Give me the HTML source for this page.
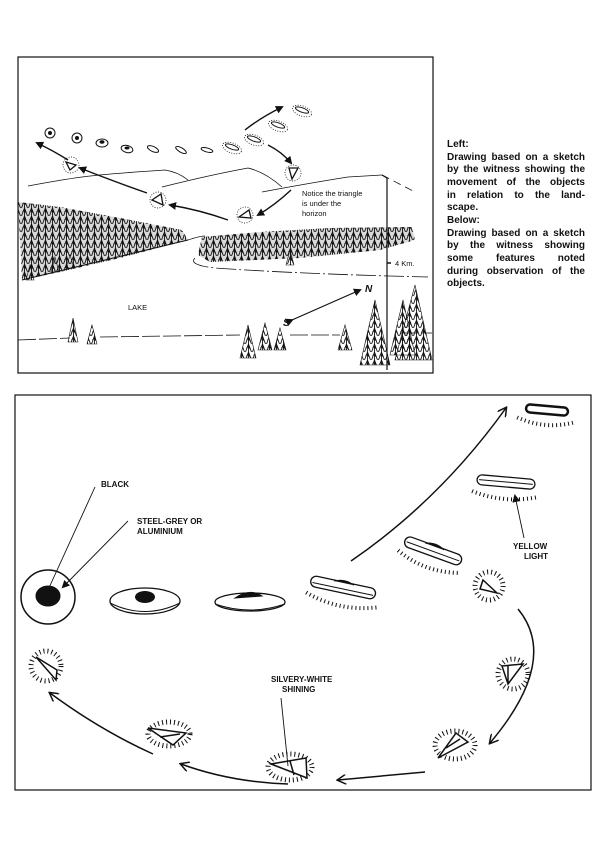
<!DOCTYPE html>
<html><head><meta charset="utf-8"><style>
html,body{margin:0;padding:0;background:#fff;}
body{width:600px;height:850px;position:relative;overflow:hidden;font-family:"Liberation Sans",sans-serif;}
#cap{position:absolute;left:447px;top:139px;width:138px;font-weight:bold;font-size:10px;line-height:12.65px;color:#111;}
#cap div{text-align:justify;text-align-last:justify;white-space:nowrap;}
#cap div.l{text-align-last:left;}
svg{position:absolute;left:0;top:0;}
</style></head><body>
<svg width="600" height="850" viewBox="0 0 600 850" font-family="Liberation Sans, sans-serif">
<defs>
<pattern id="tr" width="7" height="8" patternUnits="userSpaceOnUse">
<path d="M3.5 0 L0.5 8 M3.5 0 L6.5 8 M3.5 2 L1.5 4 M3.5 3 L5.5 5 M3.5 0 L3.5 8" stroke="#111" stroke-width="0.9" fill="none"/>
</pattern>
<marker id="ah" markerWidth="8" markerHeight="8" refX="6" refY="4" orient="auto" markerUnits="userSpaceOnUse">
<path d="M0 0 L8 4 L0 8 Z" fill="#111"/>
</marker>
<marker id="ao" markerWidth="10" markerHeight="10" refX="8" refY="5" orient="auto" markerUnits="userSpaceOnUse">
<path d="M0 0 L9 5 L0 10" fill="none" stroke="#111" stroke-width="1.5"/>
</marker>
</defs>
<g stroke="#111" fill="none">
<rect x="18" y="57" width="415" height="316" stroke-width="1.2"/>
<path d="M28 186 Q60 180 82 177 T165 170 Q178 172 188 180" stroke-width="0.8"/>
<path d="M162 187 Q210 175 248 168 Q265 172 282 187" stroke-width="0.8"/>
<path d="M262 192 Q310 183 348 177 L382 175" stroke-width="0.8"/>
<path d="M382 175 L415 192" stroke-width="0.8" stroke-dasharray="8 5"/>
<path d="M18 202 L60 207 L120 218 L182 230 L188 240 L120 258 L60 272 L22 280 Z" fill="url(#tr)" stroke="none"/>
<path d="M18 202 L60 207 L120 218 L182 230 L188 240 L120 258 L60 272 L22 280 Z" fill="#000" fill-opacity="0.15" stroke="none"/>
<path d="M202 237 L260 232 L330 228 L412 227 L415 240 L380 250 L300 258 L210 262 L198 255 Z" fill="url(#tr)" stroke="none"/>
<path d="M202 237 L260 232 L330 228 L412 227 L415 240 L380 250 L300 258 L210 262 L198 255 Z" fill="#000" fill-opacity="0.15" stroke="none"/>
<path d="M22 280 L188 240" stroke-width="1"/>
<path d="M188 240 Q200 236 205 236" stroke-width="0.8"/>
<path d="M195 258 Q188 265 215 268 Q300 274 428 277" stroke-width="0.8" stroke-dasharray="20 3 2 3"/>
<path d="M18 340 L70 338 M100 337 L240 335 M290 335 L340 335 M400 333 L432 333" stroke-width="0.8" stroke-dasharray="18 3"/>
<g fill="url(#tr)" stroke="#111" stroke-width="0.6">
<path d="M73 318 L68 342 L78 342 Z"/><path d="M92 325 L87 344 L97 344 Z"/>
<path d="M248 325 L240 358 L256 358 Z"/><path d="M265 323 L258 350 L272 350 Z"/><path d="M280 328 L274 350 L286 350 Z"/>
<path d="M345 325 L338 350 L352 350 Z"/><path d="M375 300 L360 365 L390 365 Z"/><path d="M415 285 L395 360 L432 360 Z"/><path d="M403 300 L390 355 L415 355 Z"/>
<path d="M30 265 L26 280 L34 280 Z"/><path d="M55 257 L51 272 L59 272 Z"/><path d="M70 255 L66 268 L74 268 Z"/>
<path d="M290 250 L286 265 L294 265 Z"/>
</g>
<path d="M382 175 L387 178 L387 370" stroke-width="1.2"/>
<path d="M387 263 L391 263" stroke-width="1.5"/>
<path d="M292 320 L360 290" stroke-width="1.2" marker-end="url(#ah)" marker-start="url(#ah)"/>
<g stroke-width="1">
<circle cx="50" cy="133" r="5"/><circle cx="50" cy="133" r="1.5" fill="#111"/>
<circle cx="77" cy="138" r="5"/><circle cx="77" cy="138" r="1.5" fill="#111"/>
<ellipse cx="102" cy="143" rx="6" ry="4"/><ellipse cx="102" cy="142" rx="2" ry="1.2" fill="#111"/>
<ellipse cx="127" cy="149" rx="6" ry="3.5" transform="rotate(15 127 149)"/><ellipse cx="127" cy="148" rx="2" ry="1" fill="#111"/>
<ellipse cx="153" cy="149" rx="6" ry="2.5" transform="rotate(25 153 149)"/>
<ellipse cx="181" cy="150" rx="6" ry="2.2" transform="rotate(30 181 150)"/>
<ellipse cx="207" cy="150" rx="6" ry="2" transform="rotate(15 207 150)"/>
<ellipse cx="232" cy="147" rx="7" ry="2.2" transform="rotate(20 232 147)"/>
<ellipse cx="254" cy="139" rx="7" ry="2.2" transform="rotate(20 254 139)"/>
<ellipse cx="278" cy="125" rx="7" ry="2.2" transform="rotate(20 278 125)"/>
<ellipse cx="302" cy="110" rx="7" ry="2.2" transform="rotate(20 302 110)"/>
</g>
<g stroke-width="0.8" stroke-dasharray="1 1.5">
<ellipse cx="232" cy="148" rx="10" ry="5" transform="rotate(20 232 148)"/>
<ellipse cx="254" cy="140" rx="10" ry="5" transform="rotate(20 254 140)"/>
<ellipse cx="278" cy="126" rx="10" ry="5" transform="rotate(20 278 126)"/>
<ellipse cx="302" cy="111" rx="10" ry="5" transform="rotate(20 302 111)"/>
<circle cx="293" cy="173" r="8"/><circle cx="245" cy="215" r="8"/><circle cx="158" cy="200" r="8"/><circle cx="71" cy="165" r="8"/>
</g>
<g stroke-width="1.3">
<path d="M289 168 L298 168 L292 179 Z"/>
<path d="M239 217 L249 210 L251 218 Z"/>
<path d="M152 200 L161 194 L163 205 Z"/>
<path d="M66 162 L76 165 L70 170 Z"/>
</g>
<g stroke-width="1.4">
<path d="M245 130 Q260 118 282 107" marker-end="url(#ah)"/>
<path d="M268 145 Q282 152 291 163" marker-end="url(#ah)"/>
<path d="M291 190 Q275 205 258 215" marker-end="url(#ah)"/>
<path d="M228 220 Q200 210 170 205" marker-end="url(#ah)"/>
<path d="M147 193 Q110 180 80 168" marker-end="url(#ah)"/>
<path d="M68 160 Q52 150 37 143" marker-end="url(#ah)"/>
</g>

<rect x="15" y="395" width="576" height="395" stroke-width="1.2"/>
<circle cx="48" cy="597" r="27" stroke-width="1.5"/>
<ellipse cx="48" cy="596" rx="12" ry="10" fill="#111"/>
<ellipse cx="145" cy="601" rx="35" ry="13" stroke-width="1.3"/>
<path d="M110 603 Q145 620 180 603" stroke-width="1"/>
<ellipse cx="145" cy="597" rx="10" ry="6" fill="#111" stroke="none"/>
<ellipse cx="250" cy="602" rx="35" ry="9" stroke-width="1.3"/>
<path d="M215 604 Q250 616 285 604" stroke-width="1"/>
<path d="M235 598 Q250 588 262 596 Z" fill="#111"/>
<g transform="rotate(12 343 588)">
<rect x="310" y="582" width="66" height="11" rx="5.5" stroke-width="1.3"/>
<path d="M312 589 L374 589" stroke-width="1"/>
<path d="M333 583 Q343 578 353 583" fill="#111"/>
<path d="M308 600 Q343 612 380 600" stroke-width="4" stroke-dasharray="1 3"/>
</g>
<g transform="rotate(20 432 551)">
<rect x="403" y="545" width="60" height="11" rx="5.5" stroke-width="1.3"/>
<path d="M405 551 L461 551" stroke-width="1"/>
<path d="M423 546 Q433 541 443 546" fill="#111"/>
<path d="M400 562 Q432 574 466 562" stroke-width="4" stroke-dasharray="1 3"/>
</g>
<g transform="rotate(5 506 482)">
<rect x="477" y="477" width="58" height="10" rx="5" stroke-width="1.3"/>
<path d="M479 482 L533 482" stroke-width="1"/>
<path d="M473 494 Q506 504 540 494" stroke-width="4" stroke-dasharray="1 3"/>
</g>
<g transform="rotate(5 547 410)">
<rect x="526" y="406" width="42" height="8" rx="4" stroke-width="2.5"/>
<path d="M518 420 Q547 430 575 420" stroke-width="4" stroke-dasharray="1 3"/>
</g>
<g stroke-width="5" stroke-dasharray="1 3">
<circle cx="489" cy="586" r="14"/><circle cx="513" cy="674" r="15"/><ellipse cx="455" cy="745" rx="20" ry="14"/>
<ellipse cx="290" cy="767" rx="22" ry="13"/><ellipse cx="169" cy="734" rx="21" ry="12"/><circle cx="46" cy="666" r="15"/>
</g>
<g stroke-width="1.5" fill="#fff">
<path d="M483 580 L497 593 L480 589 Z"/>
<path d="M502 666 L523 664 L508 684 Z M508 666 L508 684"/>
<path d="M438 758 L456 733 L468 742 Z M446 748 L460 739"/>
<path d="M271 764 L306 758 L307 778 Z M290 761 L294 775"/>
<path d="M148 728 L186 733 L173 745 Z M160 737 L180 734"/>
<path d="M36 657 L57 670 L56 680 Z"/>
</g>
<g stroke-width="1.5">
<path d="M351 561 Q440 500 506 408" marker-end="url(#ao)"/>
<path d="M518 609 Q560 660 490 743" marker-end="url(#ao)"/>
<path d="M425 772 L338 780" marker-end="url(#ao)"/>
<path d="M288 784 Q230 782 181 764" marker-end="url(#ao)"/>
<path d="M153 754 Q100 730 50 693" marker-end="url(#ao)"/>
</g>
<g stroke-width="0.9">
<path d="M95 487 L48 590"/>
<path d="M128 521 L63 587" marker-end="url(#ah)"/>
<path d="M524 538 L515 496" marker-end="url(#ah)"/>
<path d="M281 698 L288 766"/>
</g>
</g>
<g fill="#111" font-weight="bold" font-size="8px">
<text x="101" y="487">BLACK</text>
<text x="137" y="524">STEEL-GREY OR</text>
<text x="137" y="534">ALUMINIUM</text>
<text x="513" y="549">YELLOW</text>
<text x="524" y="559">LIGHT</text>
<text x="271" y="682">SILVERY-WHITE</text>
<text x="282" y="692">SHINING</text>
</g>
<g fill="#111" font-size="7.5px">
<text x="302" y="196">Notice the triangle</text>
<text x="302" y="206">is under the</text>
<text x="302" y="216">horizon</text>
<text x="395" y="266">4 Km.</text>
<text x="128" y="310">LAKE</text>
</g>
<g fill="#111" font-weight="bold" font-size="10px" font-style="italic">
<text x="365" y="292">N</text>
<text x="283" y="326">S</text>
</g>
</svg>
<div id="cap">
<div class="l">Left:</div>
<div>Drawing based on a sketch</div>
<div>by the witness showing the</div>
<div>movement of the objects</div>
<div>in relation to the land-</div>
<div class="l">scape.</div>
<div class="l">Below:</div>
<div>Drawing based on a sketch</div>
<div>by the witness showing</div>
<div>some features noted</div>
<div>during observation of the</div>
<div class="l">objects.</div>
</div>
</body></html>
